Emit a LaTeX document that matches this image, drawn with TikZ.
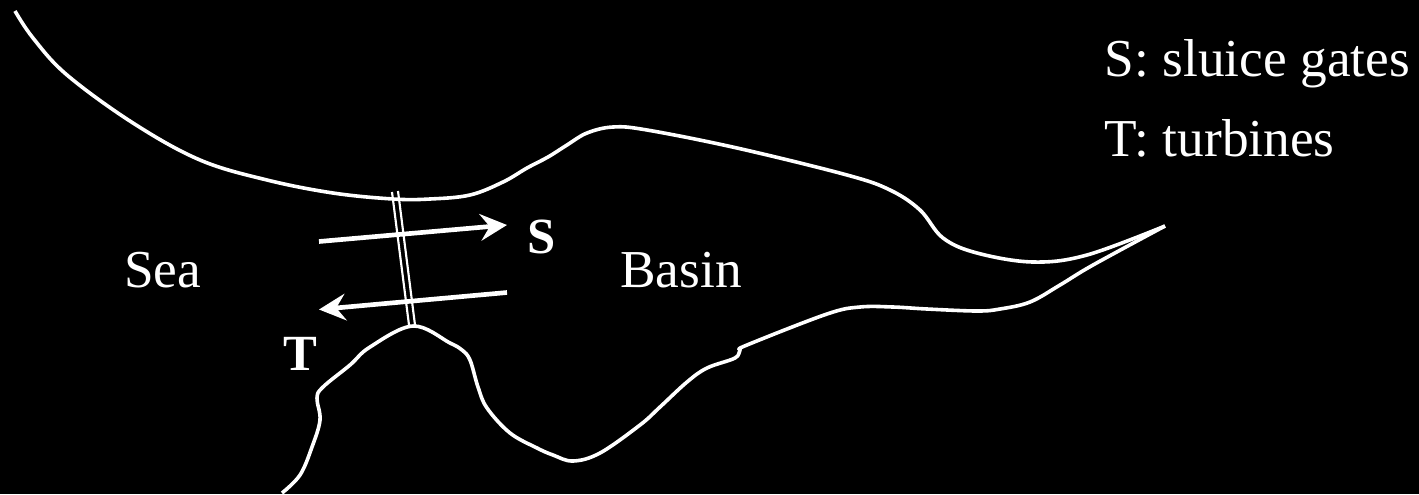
\documentclass[tikz,border=0pt]{standalone}
\usepackage{fontspec}
\setmainfont{Liberation Serif}
\usetikzlibrary{arrows.meta}
\tikzset{
  coast/.style={draw=white,line width=2.7pt,line join=round,tension=0.6},
  wall/.style={draw=white,line width=1.6pt},
  flow/.style={draw=white,line width=3.5pt,-{Stealth[length=20pt,width=20pt,inset=7pt]}},
  lab/.style={text=white,font=\fontsize{40}{44}\selectfont,inner sep=0pt,anchor=base west},
  blab/.style={text=white,font=\fontsize{38}{44}\selectfont\bfseries,inner sep=0pt,anchor=base west}
}
\begin{document}
\begin{tikzpicture}[x=0.75pt,y=-0.75pt]
\useasboundingbox[fill=black] (0,0) rectangle (1419,494);
% top coast
\draw[coast] plot[smooth] coordinates {(15,11) (33,38) (67,75) (133,123) (200,160) (267,180) (333,193) (393,199) (430,199) (470,195) (503,182) (527,168) (548,157) (567,145) (587,133) (613,127) (647,130) (737,148) (847,175) (890,190) (920,210) (943,238) (977,253) (1033,262) (1087,255) (1165,226)};
% bottom coast
\draw[coast] plot[smooth] coordinates {(1165,226) (1093,265) (1060,285) (1030,302) (1000,309) (977,311) (927,309) (893,307) (860,307) (827,314) (747,345) (740,350) (735,358) (707,368) (687,382) (660,407) (640,425) (600,453) (573,461) (553,455) (537,448) (510,433) (487,408) (478,387) (470,360) (462,350) (450,343) (413,326) (370,347) (350,365) (323,387) (317,398) (320,420) (312,447) (300,475) (282,493)};
% barrage
\coordinate (w1a) at (392,192); \coordinate (w1b) at (409,325);
\coordinate (w2a) at (398,191); \coordinate (w2b) at (415,325);
\draw[wall] (w1a) -- (w1b);
\draw[wall] (w2a) -- (w2b);
% arrows
\coordinate (sa) at (319,241.5); \coordinate (sb) at (507,225);
\coordinate (ta) at (507,292.5); \coordinate (tb) at (319,309.5);
\draw[flow] (sa) -- (sb);
\draw[flow] (ta) -- (tb);
\node[blab] (s) at (527,253) {S};
\node[blab] (t) at (283,370) {T};
\node[lab] (sea) at (124,287) {Sea};
\node[lab] (basin) at (620,287) {Basin};
\node[lab] (k1) at (1104.5,76) {S: sluice gates};
\node[lab] (k2) at (1104.5,156) {T: turbines};
\end{tikzpicture}
\end{document}
